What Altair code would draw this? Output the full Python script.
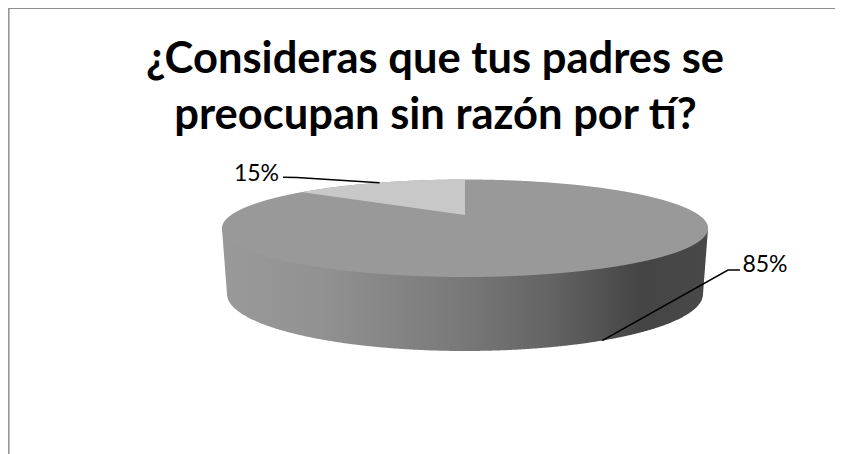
import math
import numpy as np
import pandas as pd
import altair as alt

# ---- values
categories = ["No", "Sí"]
shares = [85, 15]
value_labels = ["85%", "15%"]
title_lines = ["¿Consideras que tus padres se", "preocupan sin razón por tí?"]
top_colors = ["#999999", "#c8c8c8"]

# ---- projection of the tilted disc (page pixel units)
CX, APEX_Y, K, B, C = 465.0, 215.0, 0.272, 45.1, 233.9
RX = C / math.sqrt(1 - K * K)
TOP_CY = 228.25
TOP_RY = 48.75
BOT_CY, BOT_RY, BOT_RX = 294.0, 57.0, 238.0


def project(share_pos):
    a = 2 * math.pi * share_pos / 100
    u, v = math.sin(a), math.cos(a)
    return CX + C * u / (1 + K * v), APEX_Y - B * v / (1 + K * v)


def arc_up(x):
    return TOP_CY - TOP_RY * np.sqrt(np.clip(1 - ((x - CX) / RX) ** 2, 0, 1))


def arc_lo(x):
    return TOP_CY + TOP_RY * np.sqrt(np.clip(1 - ((x - CX) / RX) ** 2, 0, 1))


def bot_lo(x):
    d = np.abs(x - CX)
    inside = BOT_CY + BOT_RY * np.sqrt(np.clip(1 - (d / BOT_RX) ** 2, 0, 1))
    edge = BOT_CY - (d - BOT_RX) / (RX - BOT_RX) * (BOT_CY - TOP_CY)
    return np.where(d <= BOT_RX, inside, edge)


edge_x, edge_y = project(-shares[1])
xs = CX + RX * np.cos(np.linspace(0, math.pi, 721))
xs = np.unique(np.concatenate([xs, [edge_x, CX]]))
ray = np.interp(xs, [edge_x, CX], [edge_y, APEX_Y])
in_small = (xs >= edge_x) & (xs <= CX)

# the larger slice lies under the smaller one, so no seam shows along their shared edges
top_big = pd.DataFrame({"x": xs, "y": arc_up(xs), "y2": arc_lo(xs), "cat": categories[0]})
top_small = pd.DataFrame({"x": xs[in_small], "y": arc_up(xs[in_small]), "y2": ray[in_small], "cat": categories[1]})
side = pd.DataFrame({"x": xs, "y": np.full_like(xs, TOP_CY), "y2": bot_lo(xs)})

X = alt.X("x:Q", scale=alt.Scale(domain=[8, 835]), axis=None)
Y = alt.Y("y:Q", scale=alt.Scale(domain=[454, 8]), axis=None)

gradient = alt.LinearGradient(
    gradient="linear", x1=0, x2=1, y1=0, y2=0,
    stops=[
        alt.GradientStop(offset=0.0, color="#999999"),
        alt.GradientStop(offset=0.2, color="#929292"),
        alt.GradientStop(offset=0.5, color="#787878"),
        alt.GradientStop(offset=0.68, color="#636363"),
        alt.GradientStop(offset=0.86, color="#454545"),
        alt.GradientStop(offset=1.0, color="#484848"),
    ],
)

side_layer = alt.Chart(side).mark_area(color=gradient).encode(x=X, y=Y, y2="y2:Q")
color = alt.Color("cat:N", scale=alt.Scale(domain=categories, range=top_colors), legend=None)
big_layer = alt.Chart(top_big).mark_area().encode(x=X, y=Y, y2="y2:Q", color=color)
small_layer = alt.Chart(top_small).mark_area().encode(x=X, y=Y, y2="y2:Q", color=color)

# ---- leader lines: they end at the middle of each slice's arc
mx, my = project(-shares[1] / 2)
fx, fy = project(shares[0] / 2)
front_end_y = float(bot_lo(np.array([fx - 3]))[0])
leaders = pd.DataFrame({
    "x": [283, 297, mx, 740, 728, fx - 3],
    "y": [177.3, 177.6, my, 270, 270, front_end_y],
    "o": [0, 1, 2, 0, 1, 2],
    "cat": [categories[1]] * 3 + [categories[0]] * 3,
})
leader_layer = alt.Chart(leaders).mark_line(color="#000000", strokeWidth=1.5).encode(
    x=X, y=Y, detail="cat:N", order="o:Q"
)

labels = pd.DataFrame({"x": [765, 256.5], "y": [272, 180.5], "t": value_labels})
label_layer = alt.Chart(labels).mark_text(
    font="Lato", fontSize=23, color="#000000", align="center", baseline="alphabetic"
).encode(x=X, y=Y, text="t:N")

titles = pd.DataFrame({"x": [435, 435.5], "y": [73, 128.5], "t": title_lines})
title_layer = alt.Chart(titles).mark_text(
    font="Lato", fontSize=43.5, fontWeight="bold", color="#000000", align="center", baseline="alphabetic"
).encode(x=X, y=Y, text="t:N")

# ---- chart border (top and left only are visible in the crop)
border_top = alt.Chart(pd.DataFrame({"x": [8], "x2": [835], "y": [8.5]})).mark_rule(
    color="#8f8f8f", strokeWidth=1
).encode(x=X, x2="x2:Q", y=Y)
border_left = alt.Chart(pd.DataFrame({"x": [8.8], "y": [8], "y2": [454]})).mark_rule(
    color="#959595", strokeWidth=1.6
).encode(x=X, y=Y, y2="y2:Q")

chart = alt.layer(
    border_top, border_left, side_layer, big_layer, small_layer,
    leader_layer, label_layer, title_layer,
).properties(
    width=827, height=446, padding=0, autosize=alt.AutoSizeParams(type="none"),
    background="#ffffff",
).configure_view(stroke=None)

chart.save("out.html", embed_options={"renderer": "svg", "actions": False})
